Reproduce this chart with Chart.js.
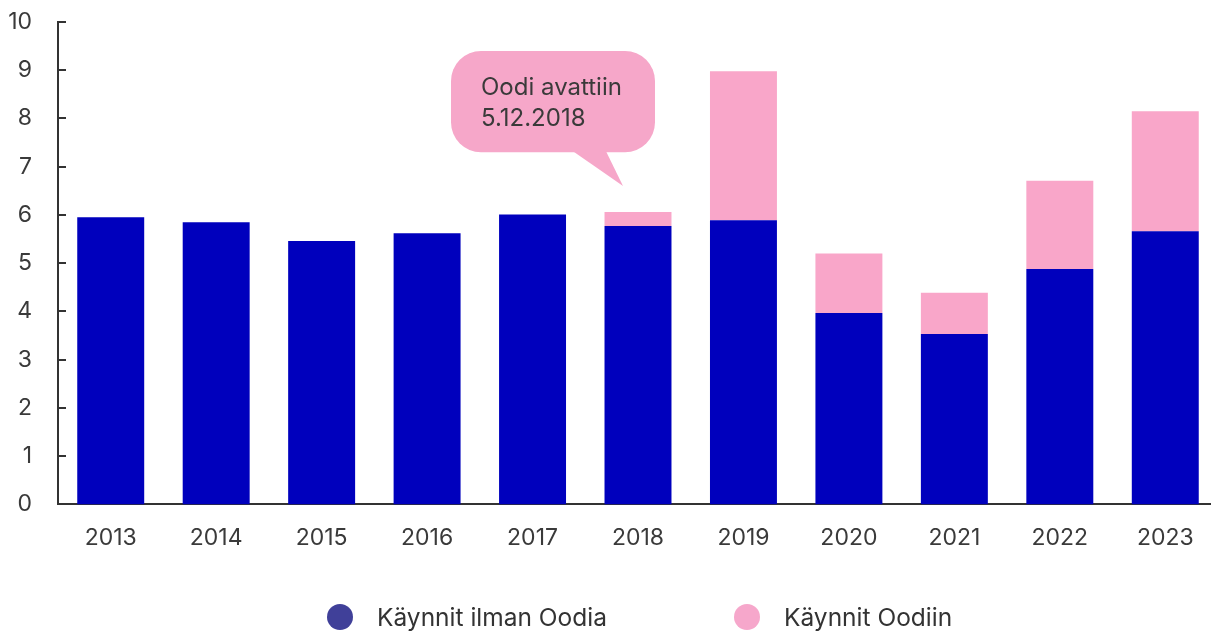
<!DOCTYPE html>
<html>
<head>
<meta charset="utf-8">
<script src="https://cdn.jsdelivr.net/npm/chart.js@4"></script>
<style>
    html, body { margin: 0; padding: 0; background: #fff; overflow: hidden; }
    #wrap { position: absolute; left: 0; top: 0; width: 1218px; height: 632px; }
    #legend { position: absolute; left: 0; top: 604px; width: 1211px; height: 26px; font-family: Inter, sans-serif; font-size: 24.5px; color: #333; }
    .item { position: absolute; top: 0; height: 26px; line-height: 26px; }
    .dot { position: absolute; left: 0; top: 0; width: 26px; height: 26px; border-radius: 50%; }
    .txt { position: absolute; left: 50px; top: 0; white-space: nowrap; }
</style>
</head>
<body>
<div id="wrap"><canvas id="bar_chart" width="1218" height="632"></canvas></div>
<div id="legend"></div>
<script>
var years = ["2013", "2014", "2015", "2016", "2017", "2018", "2019", "2020", "2021", "2022", "2023"];
var withoutOodi = [5.95, 5.85, 5.46, 5.62, 6.01, 5.77, 5.89, 3.97, 3.53, 4.88, 5.66];
var toOodi = [null, null, null, null, null, 0.29, 3.09, 1.23, 0.86, 1.83, 2.49];
var seriesNames = ["Käynnit ilman Oodia", "Käynnit Oodiin"];
var yTicks = [0, 1, 2, 3, 4, 5, 6, 7, 8, 9, 10];
var noteLines = ["Oodi avattiin", "5.12.2018"];
var noteYear = "2018";

var axisColor = '#333333';
var textColor = '#3a3a3a';

// small tick marks on the inside of the y axis
var innerTicks = {
    id: 'innerTicks',
    afterDraw: function (chart) {
        var ctx = chart.ctx, y = chart.scales.y, left = chart.chartArea.left;
        ctx.save();
        ctx.strokeStyle = axisColor;
        ctx.lineWidth = 2;
        yTicks.forEach(function (v) {
            var py = Math.round(y.getPixelForValue(v));
            ctx.beginPath();
            ctx.moveTo(left, py);
            ctx.lineTo(left + 8, py);
            ctx.stroke();
        });
        ctx.restore();
    }
};

// speech bubble pointing at the 2018 bar
var bubble = {
    id: 'bubble',
    afterDraw: function (chart) {
        var ctx = chart.ctx, x = chart.scales.x, y = chart.scales.y;
        var cx = x.getPixelForValue(years.indexOf(noteYear));
        var left = cx - 187, right = cx + 17;
        var top = y.getPixelForValue(9.4), bottom = y.getPixelForValue(7.3);
        var tipY = y.getPixelForValue(6.6);
        var r = 30;
        ctx.save();
        ctx.fillStyle = '#f6a7c9';
        ctx.beginPath();
        ctx.roundRect(left, top, right - left, bottom - top, r);
        ctx.fill();
        ctx.beginPath();
        ctx.moveTo(cx - 65, bottom - 1);
        ctx.lineTo(cx - 15, tipY);
        ctx.lineTo(cx - 32, bottom - 1);
        ctx.closePath();
        ctx.fill();
        ctx.fillStyle = textColor;
        ctx.font = '24px Inter, sans-serif';
        ctx.textBaseline = 'alphabetic';
        ctx.fillText(noteLines[0], left + 30, top + 44);
        ctx.fillText(noteLines[1], left + 30, top + 75);
        ctx.restore();
    }
};

var chart = new Chart(document.getElementById("bar_chart").getContext("2d"), {
    type: 'bar',
    data: {
        labels: years,
        datasets: [{
            label: seriesNames[0],
            data: withoutOodi,
            backgroundColor: '#0000bd'
        }, {
            label: seriesNames[1],
            data: toOodi,
            backgroundColor: '#f9a6c9'
        }]
    },
    options: {
        responsive: false,
        animation: false,
        barPercentage: 0.635,
        categoryPercentage: 1.0,
        layout: { padding: { top: 22, right: 0, bottom: 60, left: 0 } },
        plugins: {
            legend: { display: false },
            tooltip: { enabled: false }
        },
        scales: {
            x: {
                stacked: true,
                grid: { display: false, drawTicks: false },
                border: { display: true, color: axisColor, width: 2 },
                ticks: { color: textColor, font: { family: 'Inter', size: 23 }, padding: 20 }
            },
            y: {
                stacked: true,
                min: 0,
                max: 10,
                afterFit: function (scale) {
                    scale.width = 58;
                    scale.paddingTop = 0;
                    scale.paddingBottom = 0;
                },
                grid: { display: false, drawTicks: false },
                border: { display: true, color: axisColor, width: 2 },
                ticks: { stepSize: 1, color: textColor, font: { family: 'Inter', size: 23 }, padding: 26 }
            }
        }
    },
    plugins: [innerTicks, bubble]
});

// legend below the chart
var legendColors = ['#404099', '#f6a7cb'];
var legendLeft = [327, 734];
var legendBox = document.getElementById('legend');
chart.data.datasets.forEach(function (ds, i) {
    var item = document.createElement('div');
    item.className = 'item';
    item.style.left = legendLeft[i] + 'px';
    item.innerHTML = '<span class="dot" style="background:' + legendColors[i] + '"></span><span class="txt">' + ds.label + '</span>';
    legendBox.appendChild(item);
});
</script>
</body>
</html>
